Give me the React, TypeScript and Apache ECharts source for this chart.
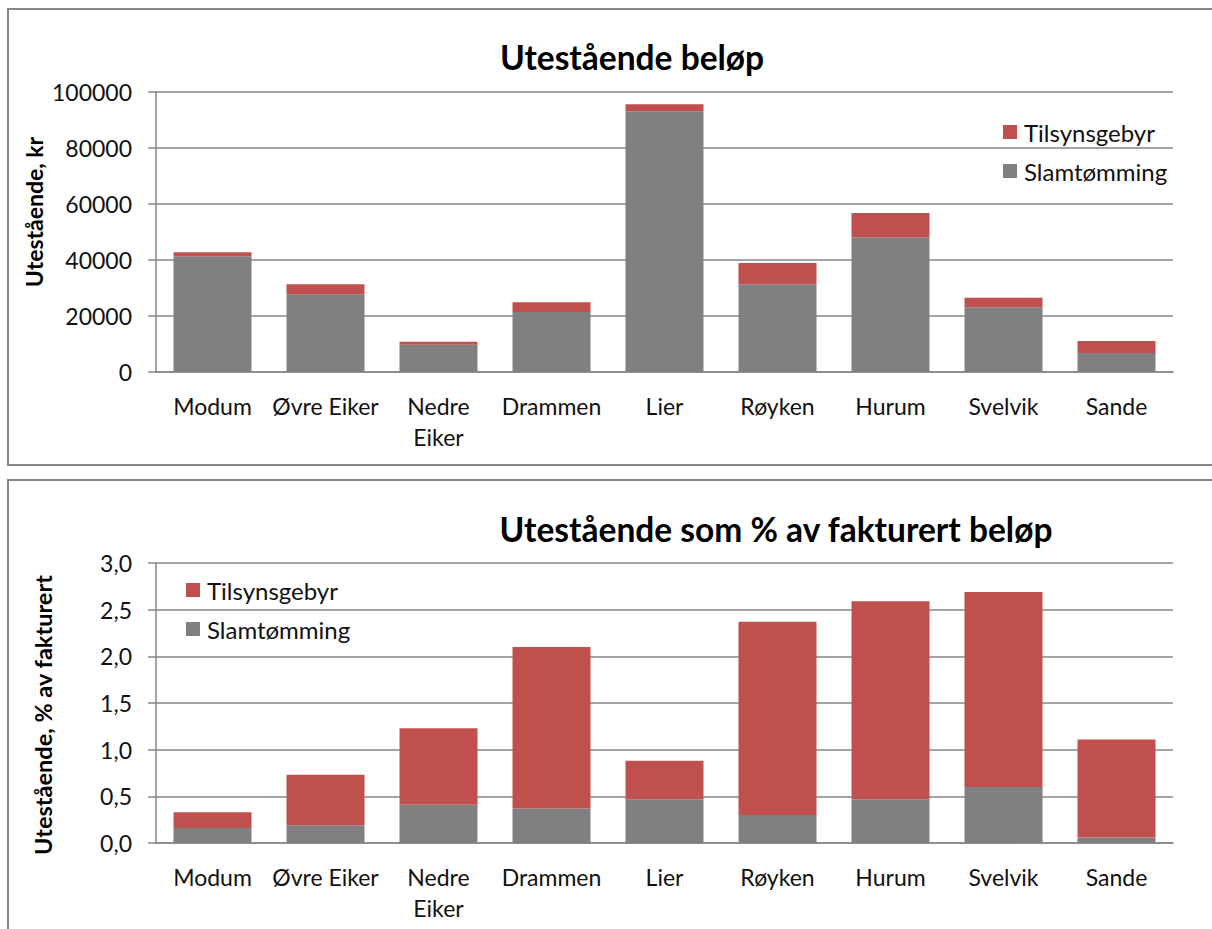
import React, { useEffect, useRef } from "react";
import * as echarts from "echarts";

const categories = ["Modum", "Øvre Eiker", "Nedre\nEiker", "Drammen", "Lier", "Røyken", "Hurum", "Svelvik", "Sande"];
const seriesNames = ["Slamtømming", "Tilsynsgebyr"];

// Top chart: Utestående beløp (kr)
const slamKr = [41300, 27800, 9700, 21400, 93100, 31350, 48100, 23150, 6800];
const tilsynKr = [1450, 3550, 1100, 3550, 2500, 7600, 8650, 3350, 4250];

// Bottom chart: Utestående som % av fakturert beløp
const slamPct = [0.16, 0.19, 0.41, 0.37, 0.47, 0.3, 0.47, 0.6, 0.06];
const tilsynPct = [0.17, 0.54, 0.82, 1.73, 0.41, 2.07, 2.12, 2.09, 1.05];

const titles = ["Utestående beløp", "Utestående som % av fakturert beløp"];
const yNames = ["Utestående, kr", "Utestående, % av fakturert"];

const GRAY = "#808080";
const RED = "#C0504D";
const LINE = "#868686";
const TEXT = "#111111";
const FONT = "Lato, 'Open Sans', sans-serif";

export default function App() {
  const ref = useRef<HTMLDivElement>(null);
  useEffect(() => {
    if (!ref.current) return;
    const chart = echarts.init(ref.current, undefined, { renderer: "svg" });

    const xAxisCommon = {
      type: "category" as const,
      data: categories,
      axisLine: { show: true, lineStyle: { color: LINE, width: 1.5 } },
      axisTick: { show: false },
      axisLabel: { color: TEXT, fontSize: 23, fontFamily: FONT, margin: 18, lineHeight: 31, interval: 0 },
    };
    const yAxisCommon = {
      type: "value" as const,
      min: 0,
      axisLine: { show: true, lineStyle: { color: LINE, width: 1.5 } },
      axisTick: { show: true, inside: false, length: 8, lineStyle: { color: LINE, width: 1.5 } },
      splitLine: { show: true, lineStyle: { color: LINE, width: 1.5 } },
      axisLabel: { color: TEXT, fontSize: 23, fontFamily: FONT, margin: 24 },
    };

    const legendCommon = {
      data: ["Tilsynsgebyr", "Slamtømming"],
      orient: "vertical" as const,
      itemWidth: 14,
      itemHeight: 14,
      itemGap: 15,
      icon: "rect",
      textStyle: { color: TEXT, fontSize: 24, fontFamily: FONT, padding: [0, 0, 0, 2] },
      selectedMode: false,
    };

    chart.setOption({
      animation: false,
      textStyle: { fontFamily: FONT },
      grid: [
        { left: 156, top: 92, width: 1017, height: 280 },
        { left: 156, top: 563, width: 1017, height: 280 },
      ],
      xAxis: [
        { ...xAxisCommon, gridIndex: 0 },
        { ...xAxisCommon, gridIndex: 1 },
      ],
      yAxis: [
        {
          ...yAxisCommon,
          gridIndex: 0,
          max: 100000,
          interval: 20000,
          axisLabel: { ...yAxisCommon.axisLabel, formatter: (v: number) => String(v) },
        },
        {
          ...yAxisCommon,
          gridIndex: 1,
          max: 3,
          interval: 0.5,
          axisLabel: {
            ...yAxisCommon.axisLabel,
            formatter: (v: number) => v.toFixed(1).replace(".", ","),
          },
        },
      ],
      legend: [
        { ...legendCommon, left: 998, top: 115 },
        { ...legendCommon, left: 181, top: 573 },
      ],
      series: [
        { name: seriesNames[0], type: "bar", stack: "a", xAxisIndex: 0, yAxisIndex: 0, data: slamKr, barWidth: 78, itemStyle: { color: GRAY } },
        { name: seriesNames[1], type: "bar", stack: "a", xAxisIndex: 0, yAxisIndex: 0, data: tilsynKr, barWidth: 78, itemStyle: { color: RED } },
        { name: seriesNames[0], type: "bar", stack: "b", xAxisIndex: 1, yAxisIndex: 1, data: slamPct, barWidth: 78, itemStyle: { color: GRAY } },
        { name: seriesNames[1], type: "bar", stack: "b", xAxisIndex: 1, yAxisIndex: 1, data: tilsynPct, barWidth: 78, itemStyle: { color: RED } },
      ],
      graphic: [
        { type: "polyline", shape: { points: [[1212, 9], [8, 9], [8, 465], [1212, 465]] }, style: { fill: "none", stroke: LINE, lineWidth: 2 }, z: -1 },
        { type: "polyline", shape: { points: [[1212, 480], [8, 480], [8, 929]] }, style: { fill: "none", stroke: LINE, lineWidth: 2 }, z: -1 },
        { type: "text", x: 632, y: 57, style: { text: titles[0], font: `bold 33.5px ${FONT}`, fill: "#000", textAlign: "center", textVerticalAlign: "middle" } },
        { type: "text", x: 776, y: 529, style: { text: titles[1], font: `bold 33.5px ${FONT}`, fill: "#000", textAlign: "center", textVerticalAlign: "middle" } },
        { type: "text", x: 34, y: 212, rotation: Math.PI / 2, style: { text: yNames[0], font: `bold 23px ${FONT}`, fill: "#000", textAlign: "center", textVerticalAlign: "middle" } },
        { type: "text", x: 43, y: 715, rotation: Math.PI / 2, style: { text: yNames[1], font: `bold 23.5px ${FONT}`, fill: "#000", textAlign: "center", textVerticalAlign: "middle" } },
      ],
    });
    return () => chart.dispose();
  }, []);
  return <div ref={ref} style={{ position: "absolute", left: 0, top: 0, width: 1212, height: 929, background: "#fff" }} />;
}
